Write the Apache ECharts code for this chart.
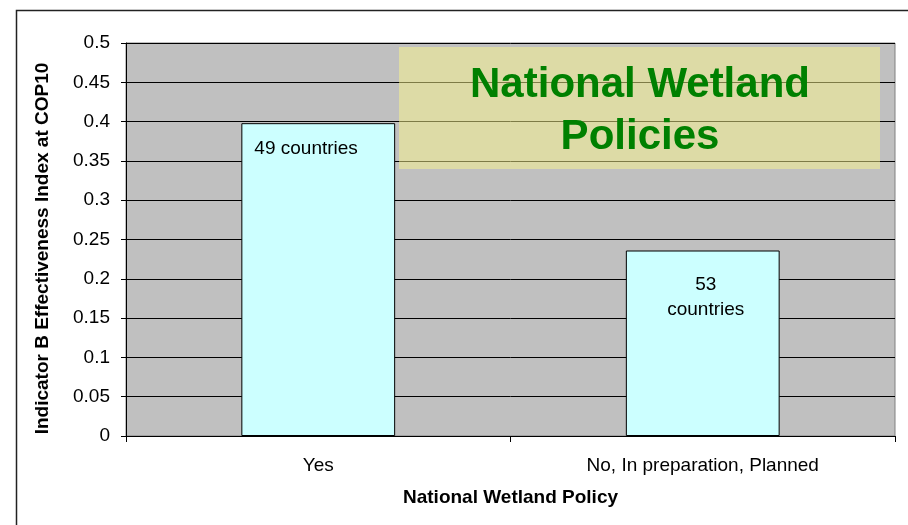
<!DOCTYPE html>
<html>
<head>
<meta charset="utf-8">
<script src="https://cdn.jsdelivr.net/npm/echarts@6/dist/echarts.min.js"></script>
<style>
html,body{margin:0;padding:0;background:#fff;}
#chart{width:908px;height:525px;}
</style>
</head>
<body>
<div id="chart"></div>
<script>
var categories = ['Yes', 'No, In preparation, Planned'];
var values = [0.398, 0.236];
var barLabels = ['49 countries', '53\ncountries'];
var yTicks = [0, 0.05, 0.1, 0.15, 0.2, 0.25, 0.3, 0.35, 0.4, 0.45, 0.5];
var titleText = 'National Wetland\nPolicies';
var xAxisName = 'National Wetland Policy';
var yAxisName = 'Indicator B Effectiveness Index at COP10';

var FONT = 'Arial, "Liberation Sans", sans-serif';
var chart = echarts.init(document.getElementById('chart'), null, {renderer: 'canvas'});

var labelStyles = [
  {position: 'insideTopLeft', distance: 0, offset: [13, 13], align: 'left'},
  {position: 'insideTop', distance: 0, offset: [3, 22], align: 'center'}
];

var option = {
  animation: false,
  backgroundColor: '#ffffff',
  grid: {
    left: 126, right: 13, top: 43, bottom: 89,
    show: true, backgroundColor: '#C0C0C0', borderColor: '#808080', borderWidth: 1
  },
  xAxis: {
    type: 'category',
    data: categories,
    boundaryGap: true,
    axisLine: {lineStyle: {color: '#000', width: 1}},
    axisTick: {show: true, length: 6, lineStyle: {color: '#000'}},
    axisLabel: {color: '#000', fontSize: 19, fontFamily: FONT, margin: 20},
    name: xAxisName,
    nameLocation: 'middle',
    nameGap: 52,
    nameTextStyle: {color: '#000', fontSize: 19, fontWeight: 'bold', fontFamily: FONT}
  },
  yAxis: {
    type: 'value',
    min: yTicks[0], max: yTicks[yTicks.length - 1], interval: 0.05,
    axisLine: {show: true, lineStyle: {color: '#000', width: 1}},
    axisTick: {show: true, length: 5, lineStyle: {color: '#000'}},
    splitLine: {show: true, lineStyle: {color: '#000', width: 1}},
    axisLabel: {color: '#000', fontSize: 19, fontFamily: FONT, margin: 16},
    name: yAxisName,
    nameLocation: 'middle',
    nameGap: 74,
    nameTextStyle: {color: '#000', fontSize: 19, fontWeight: 'bold', fontFamily: FONT, padding: [0, 18, 0, 0]}
  },
  series: [{
    type: 'bar',
    barWidth: '40%',
    data: values.map(function (v, i) {
      return {
        value: v,
        label: Object.assign({
          show: true,
          formatter: barLabels[i],
          color: '#000',
          fontSize: 19,
          lineHeight: 25,
          fontFamily: FONT
        }, labelStyles[i])
      };
    }),
    itemStyle: {color: '#CCFFFF', borderColor: '#000', borderWidth: 1}
  }],
  graphic: [
    {
      type: 'rect', z: 100, silent: true,
      shape: {x: 16.5, y: 10.5, width: 1000, height: 1000},
      style: {fill: 'none', stroke: '#222', lineWidth: 1.5}
    },
    {
      type: 'rect', z: 50, silent: true,
      shape: {x: 399, y: 47, width: 481, height: 122},
      style: {fill: 'rgba(250,246,140,0.5)'}
    },
    {
      type: 'text', z: 51, silent: true,
      x: 640, y: 111,
      style: {
        text: titleText,
        fill: '#008000',
        font: 'bold 42px ' + FONT,
        lineHeight: 52,
        align: 'center',
        verticalAlign: 'middle'
      }
    }
  ]
};
chart.setOption(option);
</script>
</body>
</html>
